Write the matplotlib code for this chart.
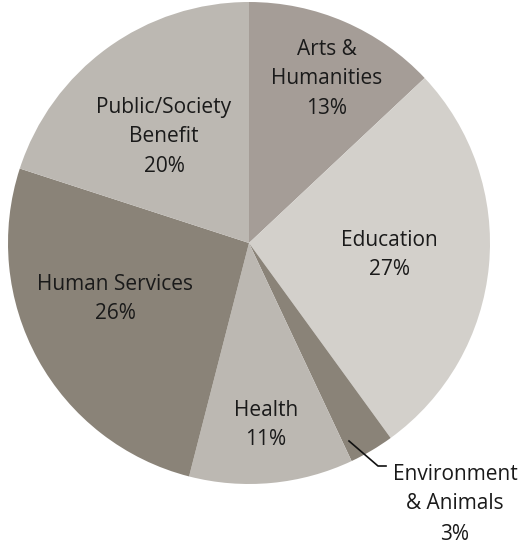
import numpy as np
import matplotlib.pyplot as plt

plt.rcParams['font.family'] = ['Open Sans', 'DejaVu Sans']

# data
categories = ["Arts &\nHumanities", "Education", "Environment\n& Animals", "Health",
              "Human Services", "Public/Society\nBenefit"]
shares = [13, 27, 3, 11, 26, 20]
colors = ["#a59d97", "#d3d0cb", "#8a8378", "#bcb8b2", "#8a8378", "#bcb8b2"]

# label anchor points in pixels (center of label block)
label_px = [(327, 79), (389, 255), (455, 489), (266, 425), (115, 299), (164, 137)]

W, H = 525, 548
cx, cy, R = 249, 243, 241
FS = 15
LS = 1.55

fig = plt.figure(figsize=(W / 100, H / 100), dpi=100)
ax = fig.add_axes([(cx - R) / W, (H - cy - R) / H, 2 * R / W, 2 * R / H])
ax.pie(shares, colors=colors, startangle=90, counterclock=False,
       wedgeprops=dict(linewidth=0), radius=1)
ax.set_xlim(-1, 1)
ax.set_ylim(-1, 1)
ax.set_aspect('equal')
ax.axis('off')

def to_data(px, py):
    return (px - cx) / R, (cy - py) / R

for i, (name, val) in enumerate(zip(categories, shares)):
    x, y = to_data(*label_px[i])
    if i == 2:
        ax.text(x, y, name, ha='center', va='center', fontsize=FS,
                color='#1a1a1a', clip_on=False, linespacing=LS)
        x2, y2 = to_data(455, 534)
        ax.text(x2, y2, f"{val}%", ha='center', va='center', fontsize=FS,
                color='#1a1a1a', clip_on=False)
    else:
        ax.text(x, y, f"{name}\n{val}%", ha='center', va='center', fontsize=FS,
                color='#1a1a1a', clip_on=False, linespacing=LS)

# leader line for the small slice
lx, ly = zip(*[to_data(349, 441), to_data(378, 466), to_data(386, 466)])
ax.plot(lx, ly, color='#111111', lw=1.2, clip_on=False)

fig.savefig("out.png", dpi=100)
